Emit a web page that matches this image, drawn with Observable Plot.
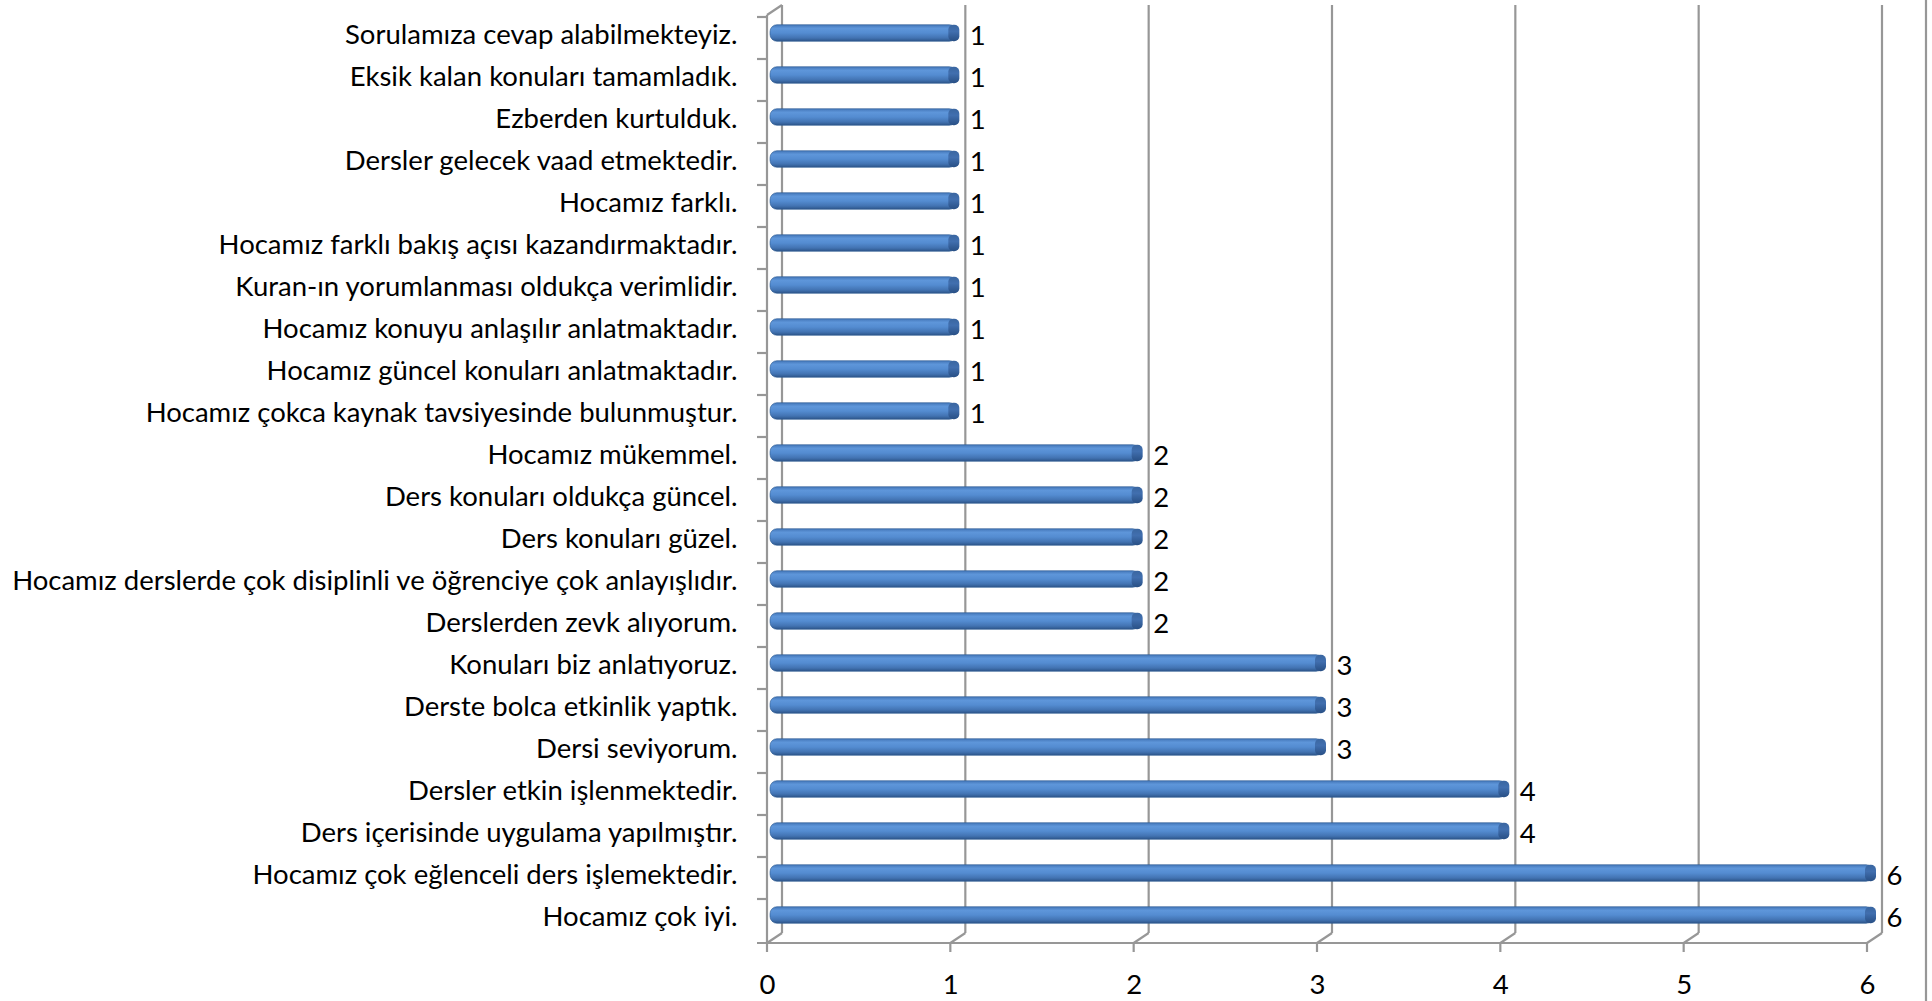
<!DOCTYPE html>
<html><head><meta charset="utf-8">
<script src="https://cdn.jsdelivr.net/npm/d3@7"></script>
<script src="https://cdn.jsdelivr.net/npm/@observablehq/plot@0.6"></script>
<style>body{margin:0;background:#fff} svg{display:block}</style>
</head><body><div id="chart"></div>
<script>
const categories = [
  "Sorulamıza cevap alabilmekteyiz.",
  "Eksik kalan konuları tamamladık.",
  "Ezberden kurtulduk.",
  "Dersler gelecek vaad etmektedir.",
  "Hocamız farklı.",
  "Hocamız farklı bakış açısı kazandırmaktadır.",
  "Kuran-ın yorumlanması oldukça verimlidir.",
  "Hocamız konuyu anlaşılır anlatmaktadır.",
  "Hocamız güncel konuları anlatmaktadır.",
  "Hocamız çokca kaynak tavsiyesinde bulunmuştur.",
  "Hocamız mükemmel.",
  "Ders konuları oldukça güncel.",
  "Ders konuları güzel.",
  "Hocamız derslerde çok disiplinli ve öğrenciye çok anlayışlıdır.",
  "Derslerden zevk alıyorum.",
  "Konuları biz anlatıyoruz.",
  "Derste bolca etkinlik yaptık.",
  "Dersi seviyorum.",
  "Dersler etkin işlenmektedir.",
  "Ders içerisinde uygulama yapılmıştır.",
  "Hocamız çok eğlenceli ders işlemektedir.",
  "Hocamız çok iyi."
];
const values = [1,1,1,1,1,1,1,1,1,1,2,2,2,2,2,3,3,3,4,4,6,6];
const xTicks = [0,1,2,3,4,5,6];

const data = categories.map((c, i) => ({label: c, value: values[i]}));

const depthX = 15, depthY = 10;
const frame = (index, scales, vals, dims) => {
  const x = scales.x, y = scales.y;
  const g = d3.create("svg:g").attr("fill", "none").attr("stroke", "#979797").attr("stroke-width", 2.2);
  const x0 = x(0), top = dims.marginTop, bottom = dims.height - dims.marginBottom;
  for (const t of xTicks) {
    g.append("line").attr("x1", x(t) + depthX).attr("x2", x(t) + depthX)
      .attr("y1", top - depthY).attr("y2", bottom - depthY);
    g.append("line").attr("x1", x(t)).attr("x2", x(t) + depthX)
      .attr("y1", bottom).attr("y2", bottom - depthY);
    g.append("line").attr("x1", x(t)).attr("x2", x(t))
      .attr("y1", bottom).attr("y2", bottom + 9);
  }
  g.append("line").attr("x1", x0 - 10).attr("x2", x(xTicks[xTicks.length - 1]))
    .attr("y1", bottom).attr("y2", bottom);
  g.append("line").attr("x1", x0).attr("x2", x0).attr("y1", top).attr("y2", bottom);
  g.append("line").attr("x1", x0).attr("x2", x0 + depthX).attr("y1", top).attr("y2", top - depthY);
  for (const c of categories) {
    const yy = y(c);
    g.append("line").attr("x1", x0 - 10).attr("x2", x0).attr("y1", yy).attr("y2", yy);
  }
  g.append("line").attr("x1", dims.width - 6).attr("x2", dims.width - 6)
    .attr("y1", 0).attr("y2", dims.height);
  return g.node();
};

const FONT = "Lato, 'Open Sans', sans-serif";
const FS = 27.5;

const svg = Plot.plot({
  width: 1932,
  height: 1001,
  marginLeft: 767,
  marginRight: 65,
  marginTop: 15,
  marginBottom: 58,
  style: {fontFamily: FONT, fontSize: FS + "px", color: "#000", background: "#fff"},
  x: {domain: [0, 6], ticks: xTicks},
  y: {domain: categories, padding: 0},
  marks: [
    frame,
    Plot.barX(data, {x1: 0, x2: "value", y: "label", insetTop: 12.7, insetBottom: 12.7, insetLeft: 3, insetRight: -6, dy: -5, rx: 7, fill: "url(#barGrad)", stroke: "#2c5a92", strokeWidth: 0.6}),
    Plot.barX(data, {x1: "value", x2: "value", y: "label", insetTop: 12.7, insetBottom: 12.7, insetLeft: -2, insetRight: -9, dy: -5, rx: 5, fill: "url(#capGrad)"}),
    Plot.text(data, {x: "value", y: "label", text: d => String(d.value), textAnchor: "start", dx: 19, dy: -2, fontSize: FS, fill: "#000"}),
    Plot.axisY({tickSize: 0, tickPadding: 30, fontSize: FS, dy: -3, label: null}),
    Plot.axisX({ticks: xTicks, tickSize: 0, tickPadding: 31, fontSize: FS, label: null, tickFormat: d3.format("d")})
  ]
});

const defs = d3.select(svg).insert("defs", ":first-child");
const g1 = defs.append("linearGradient").attr("id", "barGrad").attr("x1", 0).attr("y1", 0).attr("x2", 0).attr("y2", 1);
[["0%", "#4376b8"], ["22%", "#5e96da"], ["50%", "#548cd1"], ["80%", "#4273b2"], ["100%", "#2c5489"]]
  .forEach(([o, c]) => g1.append("stop").attr("offset", o).attr("stop-color", c));
const g2 = defs.append("linearGradient").attr("id", "capGrad").attr("x1", 0).attr("y1", 0).attr("x2", 0).attr("y2", 1);
[["0%", "#3a66a0"], ["40%", "#416faf"], ["100%", "#284f84"]]
  .forEach(([o, c]) => g2.append("stop").attr("offset", o).attr("stop-color", c));

document.getElementById("chart").appendChild(svg);
</script>
</body></html>
